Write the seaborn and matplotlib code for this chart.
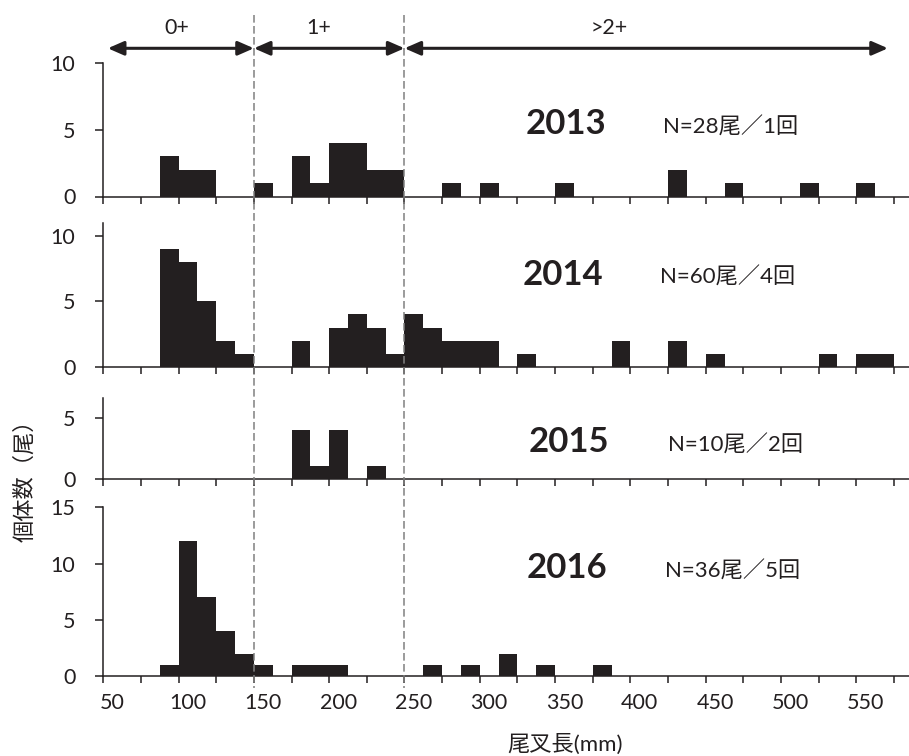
import matplotlib
matplotlib.use('Agg')
import numpy as np
import matplotlib.pyplot as plt
import matplotlib.transforms as mtransforms
from matplotlib.lines import Line2D
from matplotlib.patches import FancyArrowPatch
import seaborn as sns

# Fork length histograms, 12.5 mm classes (class start in mm, fish count)
years = ['2013', '2014', '2015', '2016']
sample_notes = ['N=28尾／1回', 'N=60尾／4回', 'N=10尾／2回', 'N=36尾／5回']

bins_2013 = [87.5, 100, 112.5, 150, 175, 187.5, 200, 212.5, 225, 237.5,
             275, 300, 350, 425, 462.5, 512.5, 550]
counts_2013 = [3, 2, 2, 1, 3, 1, 4, 4, 2, 2, 1, 1, 1, 2, 1, 1, 1]

bins_2014 = [87.5, 100, 112.5, 125, 137.5, 175, 200, 212.5, 225, 237.5,
             250, 262.5, 275, 287.5, 300, 325, 387.5, 425, 450, 525, 550, 562.5]
counts_2014 = [9, 8, 5, 2, 1, 2, 3, 4, 3, 1, 4, 3, 2, 2, 2, 1, 2, 2, 1, 1, 1, 1]

bins_2015 = [175, 187.5, 200, 225]
counts_2015 = [4, 1, 4, 1]

bins_2016 = [87.5, 100, 112.5, 125, 137.5, 150, 175, 187.5, 200,
             262.5, 287.5, 312.5, 337.5, 375]
counts_2016 = [1, 12, 7, 4, 2, 1, 1, 1, 1, 1, 1, 2, 1, 1]

bin_starts = [bins_2013, bins_2014, bins_2015, bins_2016]
bin_counts = [counts_2013, counts_2014, counts_2015, counts_2016]

y_max = [10, 11, 6.6, 15]
y_ticks = [[0, 5, 10], [0, 5, 10], [0, 5], [0, 5, 10, 15]]
x_labels = list(range(50, 551, 50))

# age classes (mm)
age_labels = ['0+', '1+', '>2+']
age_bounds = [53, 150, 250, 571]
age_label_x = [99, 193, 386]

# layout, in pixels of the 909x756 picture
FIG_W, FIG_H = 909, 756
AX_LEFT, AX_RIGHT = 103.3, 909
panel_px = [(63, 196.5), (223, 366.7), (398, 478.7), (507.3, 676)]
year_px = [(566, 134), (563, 285), (569, 452), (567, 578)]
note_px = [(663, 134), (660, 284), (668, 452), (665, 578)]
BIN_W = 12.5
BAR_COLOR = '#231f20'
LINE_COLOR = '#231f20'


def fx(x):
    return x / FIG_W


def fy(y):
    return 1 - y / FIG_H


def main():
    sns.set_style('white')
    plt.rcParams['font.family'] = ['Lato', 'Noto Sans CJK JP']

    fig = plt.figure(figsize=(FIG_W / 100, FIG_H / 100), dpi=100)
    axes = []
    for i, year in enumerate(years):
        top, bottom = panel_px[i]
        ax = fig.add_axes([fx(AX_LEFT), fy(bottom), fx(AX_RIGHT - AX_LEFT),
                           (bottom - top) / FIG_H])
        sns.histplot(x=np.array(bin_starts[i]) + BIN_W / 2, weights=bin_counts[i],
                     binwidth=BIN_W, binrange=(0, 600), color=BAR_COLOR,
                     alpha=1, linewidth=0, ax=ax)
        ax.set_xlim(50, 585)
        ax.set_ylim(0, y_max[i])
        ax.set_yticks(y_ticks[i])
        ax.set_xticks(np.arange(50, 576, 25))
        ax.set_xticklabels([])
        ax.set_xlabel('')
        ax.set_ylabel('')
        for side in ['top', 'right']:
            ax.spines[side].set_visible(False)
        for side in ['left', 'bottom']:
            ax.spines[side].set_color(LINE_COLOR)
            ax.spines[side].set_linewidth(1.1)
        ax.tick_params(axis='x', which='major', direction='out', length=5,
                       width=1.1, color=LINE_COLOR, bottom=True)
        ax.tick_params(axis='y', direction='out', length=6, width=1.1,
                       color=LINE_COLOR, left=True, pad=14,
                       labelsize=15.5, labelcolor='#231f20')
        ax.patch.set_alpha(0)

        # year and sample size
        fig.text(fx(year_px[i][0]), fy(year_px[i][1]), year, fontsize=25,
                 fontweight='bold', ha='center', va='baseline', color='#231f20')
        fig.text(fx(note_px[i][0]), fy(note_px[i][1]), sample_notes[i], fontsize=16,
                 ha='left', va='baseline', color='#231f20')
        axes.append(ax)

    # length labels sit at the centre of each labelled class
    bottom_ax = axes[-1]
    bottom_ax.set_xticks(np.array(x_labels) + BIN_W / 2, minor=True)
    bottom_ax.set_xticklabels([str(v) for v in x_labels], minor=True)
    bottom_ax.tick_params(axis='x', which='minor', length=0, pad=12,
                          labelsize=15.5, labelcolor='#231f20')

    # age class boundaries
    trans = mtransforms.blended_transform_factory(bottom_ax.transData, fig.transFigure)
    for b in age_bounds[1:-1]:
        fig.add_artist(Line2D([b, b], [fy(15), fy(688)], transform=trans,
                              color='#808080', lw=1.1, linestyle=(0, (5, 2.2))))

    # age class arrows
    for k, lab in enumerate(age_labels):
        fig.add_artist(FancyArrowPatch(
            (age_bounds[k], fy(48.3)), (age_bounds[k + 1], fy(48.3)),
            transform=trans, arrowstyle='<|-|>,head_length=0.8,head_width=0.35',
            mutation_scale=12, color=LINE_COLOR, lw=2.2, shrinkA=0, shrinkB=0))
        fig.text(age_label_x[k], fy(28.3), lab, transform=trans, fontsize=15.5,
                 ha='center', va='center', color='#231f20')

    fig.text(fx(565), fy(744), '尾叉長(mm)', fontsize=16, ha='center', va='center',
             color='#231f20')
    fig.text(fx(25), fy(408), '個体数（尾）', fontsize=16, rotation=90,
             ha='center', va='top', color='#231f20')

    fig.savefig('out.png', dpi=100)


if __name__ == '__main__':
    main()
